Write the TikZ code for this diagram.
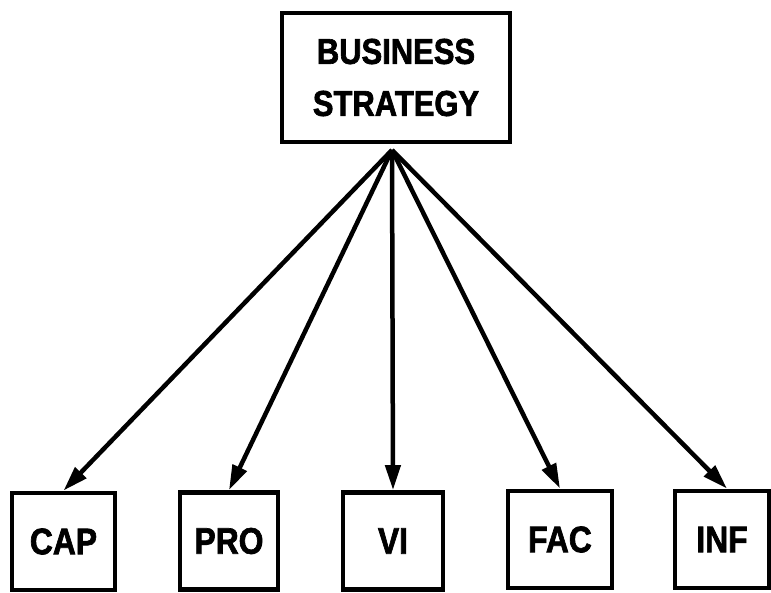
\documentclass[tikz,border=0pt]{standalone}
\usepackage{fontspec}
\setmainfont{Liberation Sans}[FakeStretch=0.86, BoldFeatures={FakeBold=1.8}]
\usetikzlibrary{arrows.meta}

\tikzset{
  topbox/.style={draw, line width=4.8pt, inner sep=0pt,
    minimum width=228pt, minimum height=129pt, align=center,
    font=\fontsize{36}{52}\selectfont\bfseries},
  leafbox/.style={draw, line width=4.8pt, inner sep=0pt,
    minimum height=97pt, font=\fontsize{37}{40}\selectfont\bfseries},
  link/.style={line width=4.5pt, -{Triangle[length=25pt,width=15pt]}}
}

\begin{document}
\begin{tikzpicture}[x=1pt, y=-1pt]
  \useasboundingbox (0,0) rectangle (771,593);

  % strategy box and the point the links fan out from
  \node[topbox] (strat) at (396,77.5) {BUSINESS\\STRATEGY};
  \coordinate (hub) at (392,150);

  % the five areas driven by the strategy
  \node[leafbox, minimum width=103pt] (cap) at (63.5,541.5) {CAP};
  \node[leafbox, minimum width=98pt]  (pro) at (229,541)   {PRO};
  \node[leafbox, minimum width=100pt] (vi)  at (393,541)   {VI};
  \node[leafbox, minimum width=104pt] (fac) at (560,539.5) {FAC};
  \node[leafbox, minimum width=94pt]  (inf) at (722,539.5) {INF};

  % links from the strategy to each area
  \draw[link] (hub) -- (cap.north);
  \draw[link] (hub) -- (pro.north);
  \draw[link] (hub) -- (vi.north);
  \draw[link] (hub) -- (fac.north);
  \draw[link] (hub) -- ([xshift=5pt]inf.north);
\end{tikzpicture}
\end{document}
